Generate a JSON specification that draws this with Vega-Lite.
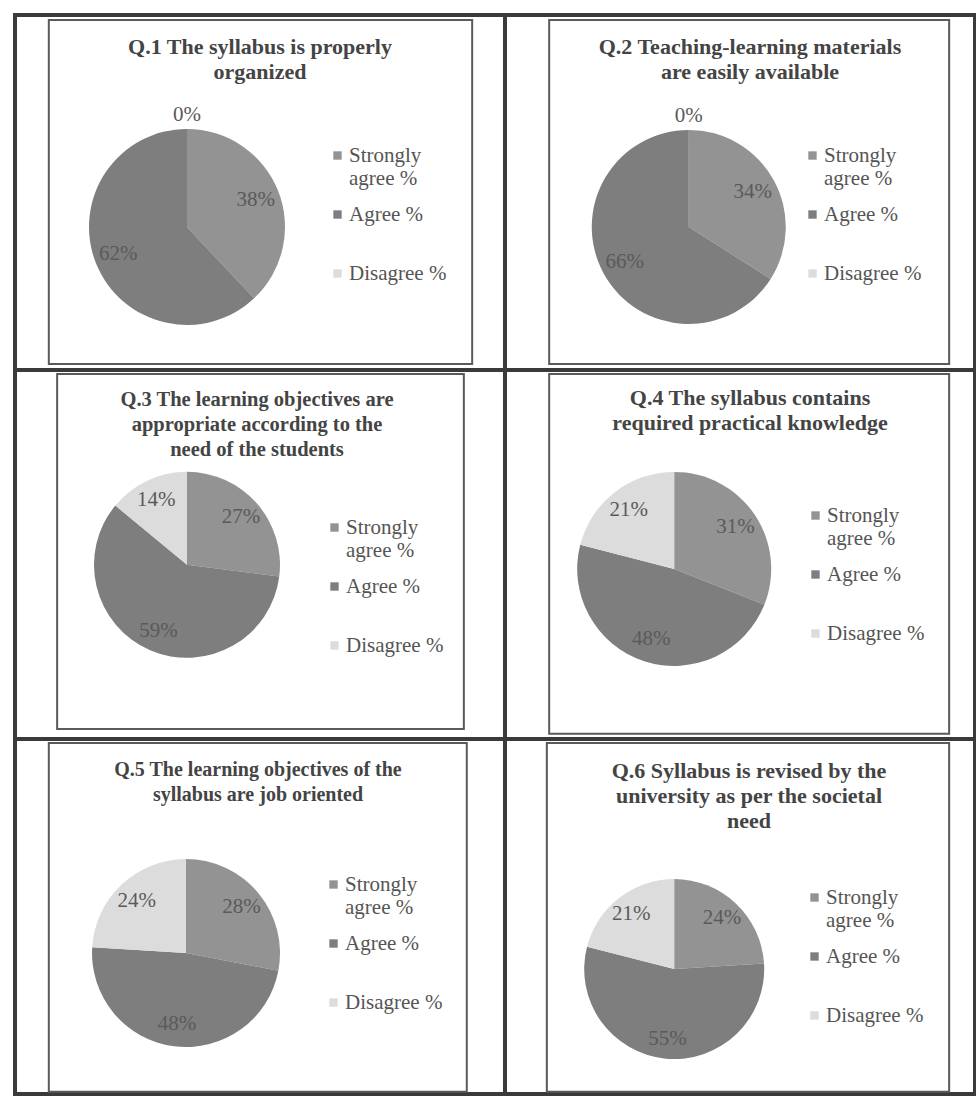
{
  "$schema": "https://vega.github.io/schema/vega-lite/v6.json",
  "padding": {"left": 13, "top": 13, "right": 0, "bottom": 0},
  "background": "white",
  "datasets": {
    "pies": [
      {"q": "Q.1", "k": 0, "cat": "Strongly agree %", "p": 0.38},
      {"q": "Q.1", "k": 1, "cat": "Agree %", "p": 0.62},
      {"q": "Q.1", "k": 2, "cat": "Disagree %", "p": 0.0},
      {"q": "Q.2", "k": 0, "cat": "Strongly agree %", "p": 0.34},
      {"q": "Q.2", "k": 1, "cat": "Agree %", "p": 0.66},
      {"q": "Q.2", "k": 2, "cat": "Disagree %", "p": 0.0},
      {"q": "Q.3", "k": 0, "cat": "Strongly agree %", "p": 0.27},
      {"q": "Q.3", "k": 1, "cat": "Agree %", "p": 0.59},
      {"q": "Q.3", "k": 2, "cat": "Disagree %", "p": 0.14},
      {"q": "Q.4", "k": 0, "cat": "Strongly agree %", "p": 0.31},
      {"q": "Q.4", "k": 1, "cat": "Agree %", "p": 0.48},
      {"q": "Q.4", "k": 2, "cat": "Disagree %", "p": 0.21},
      {"q": "Q.5", "k": 0, "cat": "Strongly agree %", "p": 0.28},
      {"q": "Q.5", "k": 1, "cat": "Agree %", "p": 0.48},
      {"q": "Q.5", "k": 2, "cat": "Disagree %", "p": 0.24},
      {"q": "Q.6", "k": 0, "cat": "Strongly agree %", "p": 0.24},
      {"q": "Q.6", "k": 1, "cat": "Agree %", "p": 0.55},
      {"q": "Q.6", "k": 2, "cat": "Disagree %", "p": 0.21}
    ]
  },
  "data": {"name": "pies"},
  "columns": 2,
  "spacing": 0,
  "bounds": "flush",
  "align": "each",
  "resolve": {"scale": {"color": "independent"}, "legend": {"color": "independent"}},
  "concat": [
    {
      "width": 490, "height": 355,
      "title": {"text": ["Q.1  The syllabus is properly", "organized"], "offset": -69, "fontSize": 22},
      "transform": [{"filter": "datum.q == 'Q.1'"}],
      "layer": [
        {"transform": [{"filter": "datum.k == 0"}],
         "mark": {"type": "rect", "fill": null, "stroke": "#5a5a5a", "strokeWidth": 2},
         "encoding": {
           "x": {"datum": 0.069, "type": "quantitative", "scale": {"domain": [0, 1]}, "axis": null},
           "x2": {"datum": 0.933},
           "y": {"datum": 0.014, "type": "quantitative", "scale": {"domain": [0, 1], "reverse": true}, "axis": null},
           "y2": {"datum": 0.983}}},
        {"mark": {"type": "arc", "outerRadius": 98},
         "encoding": {
           "x": {"datum": 0.351, "type": "quantitative"},
           "y": {"datum": 0.597, "type": "quantitative"},
           "theta": {"field": "p", "type": "quantitative", "stack": true},
           "order": {"field": "k"},
           "color": {"field": "cat", "type": "nominal", "sort": ["Strongly agree %", "Agree %", "Disagree %"],
             "legend": {"orient": "none", "legendX": 312, "legendY": 130, "labelExpr": "datum.label == 'Strongly agree %' ? ['Strongly', 'agree %'] : [datum.label, ' ']"}}}},
        {"transform": [{"filter": "datum.p > 0"}],
         "mark": {"type": "text", "radius": 74},
         "encoding": {
           "x": {"datum": 0.351, "type": "quantitative"},
           "y": {"datum": 0.597, "type": "quantitative"},
           "theta": {"field": "p", "type": "quantitative", "stack": true},
           "order": {"field": "k"},
           "text": {"field": "p", "type": "quantitative", "format": ".0%"}}},
        {"transform": [{"filter": "datum.p == 0"}],
         "mark": {"type": "text", "radius": 112},
         "encoding": {
           "x": {"datum": 0.351, "type": "quantitative"},
           "y": {"datum": 0.597, "type": "quantitative"},
           "theta": {"field": "p", "type": "quantitative", "stack": true},
           "order": {"field": "k"},
           "text": {"field": "p", "type": "quantitative", "format": ".0%"}}}
      ]
    },
    {
      "width": 470, "height": 355,
      "title": {"text": ["Q.2 Teaching-learning materials", "are easily available"], "offset": -69, "dx": 10, "fontSize": 22},
      "transform": [{"filter": "datum.q == 'Q.2'"}],
      "layer": [
        {"transform": [{"filter": "datum.k == 0"}],
         "mark": {"type": "rect", "fill": null, "stroke": "#5a5a5a", "strokeWidth": 2},
         "encoding": {
           "x": {"datum": 0.094, "type": "quantitative", "scale": {"domain": [0, 1]}, "axis": null},
           "x2": {"datum": 0.945},
           "y": {"datum": 0.014, "type": "quantitative", "scale": {"domain": [0, 1], "reverse": true}, "axis": null},
           "y2": {"datum": 0.983}}},
        {"mark": {"type": "arc", "outerRadius": 97},
         "encoding": {
           "x": {"datum": 0.391, "type": "quantitative"},
           "y": {"datum": 0.597, "type": "quantitative"},
           "theta": {"field": "p", "type": "quantitative", "stack": true},
           "order": {"field": "k"},
           "color": {"field": "cat", "type": "nominal", "sort": ["Strongly agree %", "Agree %", "Disagree %"],
             "legend": {"orient": "none", "legendX": 297, "legendY": 130, "labelExpr": "datum.label == 'Strongly agree %' ? ['Strongly', 'agree %'] : [datum.label, ' ']"}}}},
        {"transform": [{"filter": "datum.p > 0"}],
         "mark": {"type": "text", "radius": 73},
         "encoding": {
           "x": {"datum": 0.391, "type": "quantitative"},
           "y": {"datum": 0.597, "type": "quantitative"},
           "theta": {"field": "p", "type": "quantitative", "stack": true},
           "order": {"field": "k"},
           "text": {"field": "p", "type": "quantitative", "format": ".0%"}}},
        {"transform": [{"filter": "datum.p == 0"}],
         "mark": {"type": "text", "radius": 111},
         "encoding": {
           "x": {"datum": 0.391, "type": "quantitative"},
           "y": {"datum": 0.597, "type": "quantitative"},
           "theta": {"field": "p", "type": "quantitative", "stack": true},
           "order": {"field": "k"},
           "text": {"field": "p", "type": "quantitative", "format": ".0%"}}}
      ]
    },
    {
      "width": 490, "height": 369,
      "title": {"text": ["Q.3 The learning objectives are", "appropriate according to the", "need of the students"], "offset": -90, "dx": -3},
      "transform": [{"filter": "datum.q == 'Q.3'"}],
      "layer": [
        {"transform": [{"filter": "datum.k == 0"}],
         "mark": {"type": "rect", "fill": null, "stroke": "#5a5a5a", "strokeWidth": 2},
         "encoding": {
           "x": {"datum": 0.086, "type": "quantitative", "scale": {"domain": [0, 1]}, "axis": null},
           "x2": {"datum": 0.916},
           "y": {"datum": 0.011, "type": "quantitative", "scale": {"domain": [0, 1], "reverse": true}, "axis": null},
           "y2": {"datum": 0.973}}},
        {"mark": {"type": "arc", "outerRadius": 93},
         "encoding": {
           "x": {"datum": 0.351, "type": "quantitative"},
           "y": {"datum": 0.528, "type": "quantitative"},
           "theta": {"field": "p", "type": "quantitative", "stack": true},
           "order": {"field": "k"},
           "color": {"field": "cat", "type": "nominal", "sort": ["Strongly agree %", "Agree %", "Disagree %"],
             "legend": {"orient": "none", "legendX": 309, "legendY": 147, "labelExpr": "datum.label == 'Strongly agree %' ? ['Strongly', 'agree %'] : [datum.label, ' ']"}}}},
        {"transform": [{"filter": "datum.p > 0"}],
         "mark": {"type": "text", "radius": 72},
         "encoding": {
           "x": {"datum": 0.351, "type": "quantitative"},
           "y": {"datum": 0.528, "type": "quantitative"},
           "theta": {"field": "p", "type": "quantitative", "stack": true},
           "order": {"field": "k"},
           "text": {"field": "p", "type": "quantitative", "format": ".0%"}}}
      ]
    },
    {
      "width": 470, "height": 369,
      "title": {"text": ["Q.4 The syllabus contains", "required practical knowledge"], "offset": -65, "dx": 10, "fontSize": 22},
      "transform": [{"filter": "datum.q == 'Q.4'"}],
      "layer": [
        {"transform": [{"filter": "datum.k == 0"}],
         "mark": {"type": "rect", "fill": null, "stroke": "#5a5a5a", "strokeWidth": 2},
         "encoding": {
           "x": {"datum": 0.094, "type": "quantitative", "scale": {"domain": [0, 1]}, "axis": null},
           "x2": {"datum": 0.945},
           "y": {"datum": 0.011, "type": "quantitative", "scale": {"domain": [0, 1], "reverse": true}, "axis": null},
           "y2": {"datum": 0.986}}},
        {"mark": {"type": "arc", "outerRadius": 97},
         "encoding": {
           "x": {"datum": 0.36, "type": "quantitative"},
           "y": {"datum": 0.539, "type": "quantitative"},
           "theta": {"field": "p", "type": "quantitative", "stack": true},
           "order": {"field": "k"},
           "color": {"field": "cat", "type": "nominal", "sort": ["Strongly agree %", "Agree %", "Disagree %"],
             "legend": {"orient": "none", "legendX": 300, "legendY": 135, "labelExpr": "datum.label == 'Strongly agree %' ? ['Strongly', 'agree %'] : [datum.label, ' ']"}}}},
        {"transform": [{"filter": "datum.p > 0"}],
         "mark": {"type": "text", "radius": 74},
         "encoding": {
           "x": {"datum": 0.36, "type": "quantitative"},
           "y": {"datum": 0.539, "type": "quantitative"},
           "theta": {"field": "p", "type": "quantitative", "stack": true},
           "order": {"field": "k"},
           "text": {"field": "p", "type": "quantitative", "format": ".0%"}}}
      ]
    },
    {
      "width": 490, "height": 355,
      "title": {"text": ["Q.5 The learning objectives of the", "syllabus are job oriented"], "offset": -66, "dx": -2, "fontSize": 20},
      "transform": [{"filter": "datum.q == 'Q.5'"}],
      "layer": [
        {"transform": [{"filter": "datum.k == 0"}],
         "mark": {"type": "rect", "fill": null, "stroke": "#5a5a5a", "strokeWidth": 2},
         "encoding": {
           "x": {"datum": 0.069, "type": "quantitative", "scale": {"domain": [0, 1]}, "axis": null},
           "x2": {"datum": 0.922},
           "y": {"datum": 0.011, "type": "quantitative", "scale": {"domain": [0, 1], "reverse": true}, "axis": null},
           "y2": {"datum": 0.994}}},
        {"mark": {"type": "arc", "outerRadius": 94},
         "encoding": {
           "x": {"datum": 0.349, "type": "quantitative"},
           "y": {"datum": 0.603, "type": "quantitative"},
           "theta": {"field": "p", "type": "quantitative", "stack": true},
           "order": {"field": "k"},
           "color": {"field": "cat", "type": "nominal", "sort": ["Strongly agree %", "Agree %", "Disagree %"],
             "legend": {"orient": "none", "legendX": 308, "legendY": 135, "labelExpr": "datum.label == 'Strongly agree %' ? ['Strongly', 'agree %'] : [datum.label, ' ']"}}}},
        {"transform": [{"filter": "datum.p > 0"}],
         "mark": {"type": "text", "radius": 72},
         "encoding": {
           "x": {"datum": 0.349, "type": "quantitative"},
           "y": {"datum": 0.603, "type": "quantitative"},
           "theta": {"field": "p", "type": "quantitative", "stack": true},
           "order": {"field": "k"},
           "text": {"field": "p", "type": "quantitative", "format": ".0%"}}}
      ]
    },
    {
      "width": 470, "height": 355,
      "title": {"text": ["Q.6 Syllabus is revised by the", "university as per the societal", "need"], "offset": -94, "dx": 9, "fontSize": 22},
      "transform": [{"filter": "datum.q == 'Q.6'"}],
      "layer": [
        {"transform": [{"filter": "datum.k == 0"}],
         "mark": {"type": "rect", "fill": null, "stroke": "#5a5a5a", "strokeWidth": 2},
         "encoding": {
           "x": {"datum": 0.089, "type": "quantitative", "scale": {"domain": [0, 1]}, "axis": null},
           "x2": {"datum": 0.945},
           "y": {"datum": 0.011, "type": "quantitative", "scale": {"domain": [0, 1], "reverse": true}, "axis": null},
           "y2": {"datum": 0.994}}},
        {"mark": {"type": "arc", "outerRadius": 90},
         "encoding": {
           "x": {"datum": 0.36, "type": "quantitative"},
           "y": {"datum": 0.648, "type": "quantitative"},
           "theta": {"field": "p", "type": "quantitative", "stack": true},
           "order": {"field": "k"},
           "color": {"field": "cat", "type": "nominal", "sort": ["Strongly agree %", "Agree %", "Disagree %"],
             "legend": {"orient": "none", "legendX": 299, "legendY": 148, "labelExpr": "datum.label == 'Strongly agree %' ? ['Strongly', 'agree %'] : [datum.label, ' ']"}}}},
        {"transform": [{"filter": "datum.p > 0"}],
         "mark": {"type": "text", "radius": 70},
         "encoding": {
           "x": {"datum": 0.36, "type": "quantitative"},
           "y": {"datum": 0.648, "type": "quantitative"},
           "theta": {"field": "p", "type": "quantitative", "stack": true},
           "order": {"field": "k"},
           "text": {"field": "p", "type": "quantitative", "format": ".0%"}}}
      ]
    }
  ],
  "config": {
    "font": "Liberation Serif",
    "view": {"stroke": "#3a3a3a", "strokeWidth": 4},
    "range": {"category": ["#939393", "#7e7e7e", "#dcdcdc"]},
    "title": {"font": "Liberation Serif", "fontSize": 20.5, "fontWeight": "bold", "color": "#444444", "lineHeight": 25, "anchor": "middle", "frame": "group"},
    "arc": {"stroke": null},
    "text": {"font": "Liberation Serif", "fontSize": 21, "fill": "#5a5a5a"},
    "legend": {"title": null, "symbolType": "square", "symbolSize": 70, "symbolStrokeWidth": 0, "labelFont": "Liberation Serif", "labelFontSize": 21, "labelColor": "#555555", "labelOffset": 1, "rowPadding": 14, "padding": 0, "labelLimit": 200}
  }
}
